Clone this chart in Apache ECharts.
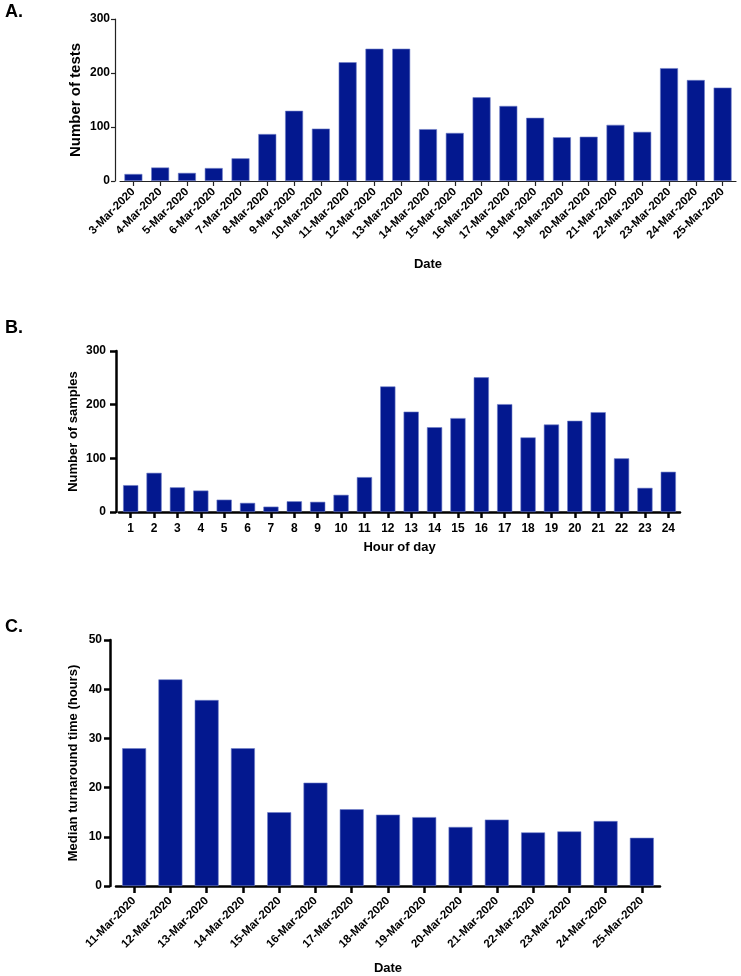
<!DOCTYPE html>
<html>
<head>
<meta charset="utf-8">
<script src="https://cdn.jsdelivr.net/npm/echarts@6/dist/echarts.min.js"></script>
<style>
html,body{margin:0;padding:0;background:#fff;}
#chart{width:741px;height:976px;}
</style>
</head>
<body>
<div id="chart"></div>
<script>
// ---- Data ----
const datesA = ['3-Mar-2020','4-Mar-2020','5-Mar-2020','6-Mar-2020','7-Mar-2020','8-Mar-2020','9-Mar-2020','10-Mar-2020','11-Mar-2020','12-Mar-2020','13-Mar-2020','14-Mar-2020','15-Mar-2020','16-Mar-2020','17-Mar-2020','18-Mar-2020','19-Mar-2020','20-Mar-2020','21-Mar-2020','22-Mar-2020','23-Mar-2020','24-Mar-2020','25-Mar-2020'];
const testsA = [13,25,15,24,42,87,130,97,220,245,245,96,89,155,139,117,81,82,104,91,209,187,173];
const yTicksA = [0,100,200,300];

const hoursB = ['1','2','3','4','5','6','7','8','9','10','11','12','13','14','15','16','17','18','19','20','21','22','23','24'];
const samplesB = [50,73,46,40,23,17,10,20,19,32,65,234,187,158,175,251,201,139,163,170,186,100,45,75];
const yTicksB = [0,100,200,300];

const datesC = ['11-Mar-2020','12-Mar-2020','13-Mar-2020','14-Mar-2020','15-Mar-2020','16-Mar-2020','17-Mar-2020','18-Mar-2020','19-Mar-2020','20-Mar-2020','21-Mar-2020','22-Mar-2020','23-Mar-2020','24-Mar-2020','25-Mar-2020'];
const turnaroundC = [28,42,37.8,28,15,21,15.6,14.5,14,12,13.5,10.9,11.1,13.2,9.8];
const yTicksC = [0,10,20,30,40,50];

// ---- Styles ----
const FONT = "'Liberation Sans', Arial, Helvetica, sans-serif";
const BAR = '#03188f';
const barStyle = {color: BAR, borderColor: '#7080c8', borderWidth: 0.6};

function yAx(idx, ticks, name, opts) {
  return {
    type: 'value', gridIndex: idx,
    min: ticks[0], max: ticks[ticks.length-1], interval: ticks[1]-ticks[0],
    offset: opts.offset,
    name: name, nameLocation: 'middle', nameGap: opts.nameGap, nameRotate: 90,
    nameMoveOverlap: false,
    nameTextStyle: {fontFamily: FONT, fontWeight: 'bold', fontSize: opts.nameSize, color: '#000'},
    axisLine: {show: true, lineStyle: {color: opts.lineColor, width: opts.lineWidth}},
    axisTick: {show: true, length: opts.tickLen, lineStyle: {color: opts.lineColor, width: opts.lineWidth}},
    axisLabel: {fontFamily: FONT, fontWeight: 'bold', fontSize: opts.labelSize, color: '#000', margin: opts.labelMargin},
    splitLine: {show: false}
  };
}
function xAx(idx, cats, name, opts) {
  return {
    type: 'category', gridIndex: idx, data: cats,
    name: name, nameLocation: 'middle', nameGap: opts.nameGap,
    nameMoveOverlap: false,
    nameTextStyle: {fontFamily: FONT, fontWeight: 'bold', fontSize: opts.nameSize, color: '#000'},
    axisLine: {show: true, lineStyle: {color: opts.lineColor, width: opts.lineWidth}},
    axisTick: {show: true, alignWithLabel: true, length: opts.tickLen, lineStyle: {color: opts.lineColor, width: opts.lineWidth}},
    axisLabel: {fontFamily: FONT, fontWeight: 'bold', fontSize: opts.labelSize, color: '#000', rotate: opts.rotate, margin: opts.labelMargin, interval: 0},
    splitLine: {show: false}
  };
}

const chart = echarts.init(document.getElementById('chart'), null, {renderer: 'canvas'});
chart.setOption({
  animation: false,
  backgroundColor: '#fff',
  title: [
    {text: 'A.', left: 0, top: -2, textStyle: {fontFamily: FONT, fontWeight: 'bold', fontSize: 18, color: '#000'}},
    {text: 'B.', left: 0, top: 314, textStyle: {fontFamily: FONT, fontWeight: 'bold', fontSize: 18, color: '#000'}},
    {text: 'C.', left: 0, top: 613, textStyle: {fontFamily: FONT, fontWeight: 'bold', fontSize: 18, color: '#000'}}
  ],
  grid: [
    {left: 120, right: 5, top: 19, height: 162},
    {left: 119, right: 61, top: 351, height: 161},
    {left: 116, right: 81, top: 640, height: 248}
  ],
  xAxis: [
    xAx(0, datesA, 'Date', {nameGap: 77, nameSize: 13, lineColor: '#222', lineWidth: 1.2, tickLen: 5, labelSize: 11.5, rotate: 45, labelMargin: 9}),
    xAx(1, hoursB, 'Hour of day', {nameGap: 29, nameSize: 13, lineColor: '#000', lineWidth: 2.5, tickLen: 6, labelSize: 12, rotate: 0, labelMargin: 11}),
    xAx(2, datesC, 'Date', {nameGap: 76, nameSize: 13, lineColor: '#000', lineWidth: 2.5, tickLen: 7, labelSize: 11.5, rotate: 45, labelMargin: 13})
  ],
  yAxis: [
    yAx(0, yTicksA, 'Number of tests', {offset: 5, nameGap: 32, nameSize: 15, lineColor: '#222', lineWidth: 1.2, tickLen: 4, labelSize: 12, labelMargin: 5}),
    yAx(1, yTicksB, 'Number of samples', {offset: 3, nameGap: 36, nameSize: 13, lineColor: '#000', lineWidth: 2.5, tickLen: 6, labelSize: 12, labelMargin: 10}),
    yAx(2, yTicksC, 'Median turnaround time (hours)', {offset: 6, nameGap: 30, nameSize: 13, lineColor: '#000', lineWidth: 2.5, tickLen: 6, labelSize: 12, labelMargin: 8})
  ],
  series: [
    {type: 'bar', xAxisIndex: 0, yAxisIndex: 0, data: testsA, barCategoryGap: '33%', itemStyle: barStyle},
    {type: 'bar', xAxisIndex: 1, yAxisIndex: 1, data: samplesB, barCategoryGap: '35%', itemStyle: barStyle},
    {type: 'bar', xAxisIndex: 2, yAxisIndex: 2, data: turnaroundC, barCategoryGap: '34%', itemStyle: barStyle}
  ]
});
</script>
</body>
</html>
